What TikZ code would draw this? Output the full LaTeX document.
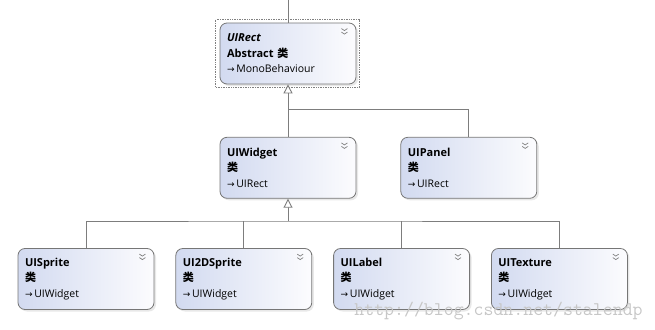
\documentclass[tikz,border=0pt]{standalone}
\usepackage{fontspec}
\setmainfont{Open Sans}
\newfontfamily\cjk{Noto Sans CJK SC}
\newfontfamily\symfont{DejaVu Sans}
\usetikzlibrary{arrows.meta, positioning, shadows}
\definecolor{clsedge}{RGB}{118,118,118}
\definecolor{clsblue}{RGB}{210,218,240}
\definecolor{clswhite}{RGB}{252,252,254}
\definecolor{wirec}{RGB}{125,125,125}
\newcommand{\inh}{{\symfont\fontsize{9}{9}\selectfont →}}
\newcommand{\lei}{{\cjk\bfseries 类}}
\newcommand{\base}[1]{{\fontsize{10.5}{15.5}\selectfont\inh\,#1}}

\begin{document}
\begin{tikzpicture}[
    x = 1pt, y = 1pt,
    font = \fontsize{11}{15.5}\selectfont,
    cls/.style={
      draw = clsedge,
      line width = 0.8pt,
      rounded corners = 7pt,
      left color = clsblue,
      right color = clswhite,
      drop shadow = {shadow xshift = 2pt, shadow yshift = -2pt, opacity = 0.18},
      minimum width = 136pt,
      minimum height = 61pt,
      text width = 122pt,
      inner xsep = 7pt,
      align = left,
    },
    wire/.style={draw = wirec, line width = 0.9pt},
    isa/.style={wire, -{Triangle[open, fill = white, length = 9pt, width = 9pt]}},
    selframe/.style={draw = gray, densely dotted, line width = 0.7pt},
    watermark/.style={text = black!22, font = \fontsize{19.3}{19.3}\ttfamily, anchor = base},
    chev/.pic={
      \draw[gray, line width = 0.7pt] (-3,2) -- (0,0) -- (3,2) (-3,-1.5) -- (0,-3.5) -- (3,-1.5);
    },
  ]
  \useasboundingbox (0,0) rectangle (655,-329);
  \node[cls] (rect) at (288,-53.5)
    {\textbf{\textit{UIRect}}\\\textbf{Abstract} \lei\\\base{MonoBehaviour}};
  \node[cls, below = 52.5pt of rect] (widget) {\textbf{UIWidget}\\\lei\\\base{UIRect}};
  \node[cls, right = 44pt of widget] (panel) {\textbf{UIPanel}\\\lei\\\base{UIRect}};
  \node[cls] (sprite) at (86,-279) {\textbf{UISprite}\\\lei\\\base{UIWidget}};
  \node[cls, right = 21pt of sprite] (sprite2d) {\textbf{UI2DSprite}\\\lei\\\base{UIWidget}};
  \node[cls, right = 21pt of sprite2d] (label) {\textbf{UILabel}\\\lei\\\base{UIWidget}};
  \node[cls, right = 21pt of label] (texture) {\textbf{UITexture}\\\lei\\\base{UIWidget}};
  \foreach \n in {rect, widget, panel, sprite, sprite2d, label, texture}
    \pic at ([shift = {(-12,-8)}]\n.north east) {chev};
  % selection around the abstract class
  \draw[selframe] ([shift = {(-4,3)}]rect.north west) rectangle ([shift = {(3,-3)}]rect.south east);
  \coordinate (top) at (288,0);
  \coordinate (fork) at (288,-109);
  \coordinate (bus) at (288,-221);
  \draw[wire] (top) -- (rect.north);
  \draw[isa] (widget.north) -- (rect.south);
  \draw[wire] (panel.north) |- (fork);
  \draw[isa] (bus) -- (widget.south);
  \draw[wire] (sprite.north) |- (bus) -| (texture.north);
  \draw[wire] (sprite2d.north) -- (sprite2d.north |- bus);
  \draw[wire] (label.north) -- (label.north |- bus);
  \node[watermark] (wm) at (498.5,-315) {http://blog.csdn.net/stalendp};
\end{tikzpicture}
\end{document}
